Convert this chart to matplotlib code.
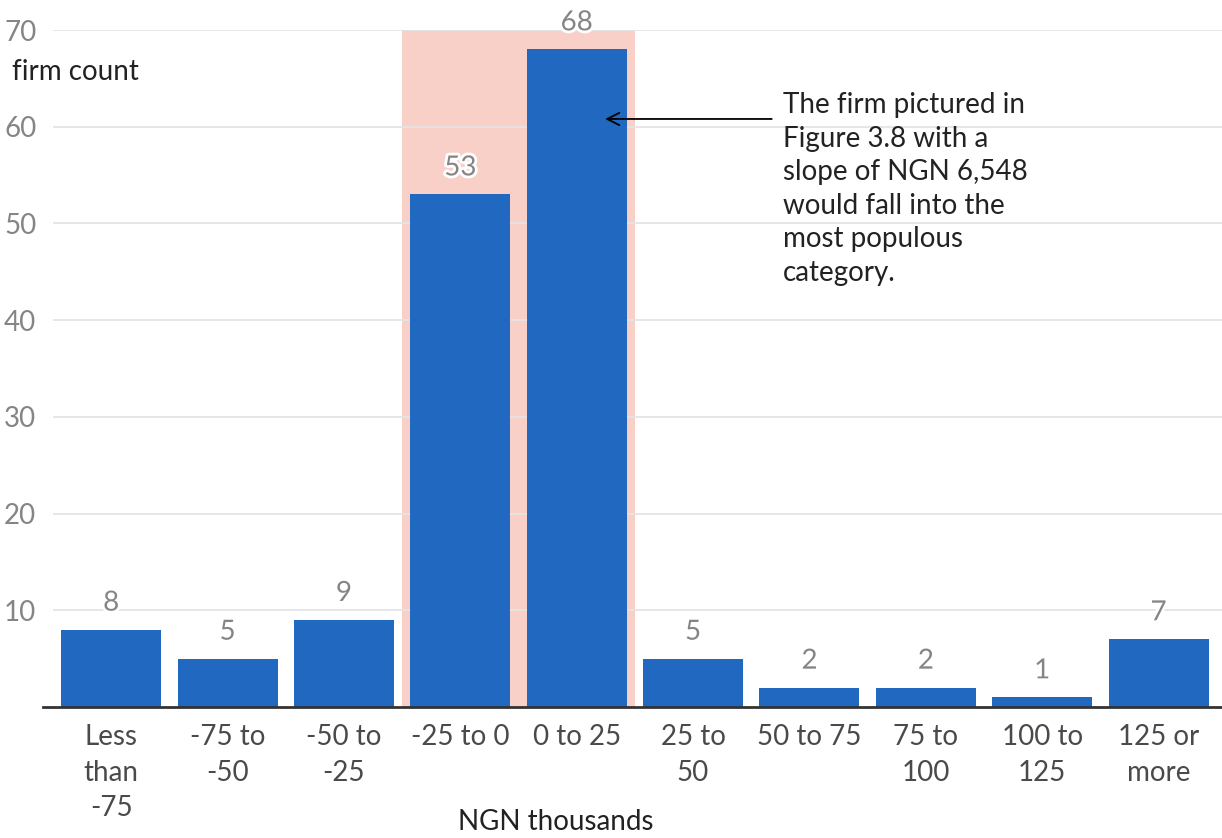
import matplotlib
matplotlib.use("Agg")
import matplotlib.pyplot as plt
import matplotlib.patheffects as pe

plt.rcParams['font.family'] = ['Lato', 'DejaVu Sans']

categories = ["Less\nthan\n-75", "-75 to\n-50", "-50 to\n-25", "-25 to 0", "0 to 25",
              "25 to\n50", "50 to 75", "75 to\n100", "100 to\n125", "125 or\nmore"]
firm_counts = [8, 5, 9, 53, 68, 5, 2, 2, 1, 7]
y_ticks = [10, 20, 30, 40, 50, 60, 70]
highlight = (2.5, 4.5)

W, H = 1222, 838
fig = plt.figure(figsize=(W / 100, H / 100), dpi=100)
ax = fig.add_axes([53 / W, 131 / H, (W - 53) / W, 677 / H])

bar_color = "#2068c0"
gray = "#858585"
fs = 20

ax.axvspan(highlight[0], highlight[1], ymin=0, ymax=1, color="#f9d0c8", zorder=0, lw=0)
x = list(range(len(categories)))
ax.bar(x, firm_counts, width=0.86, color=bar_color, zorder=2)

for xi, v in zip(x, firm_counts):
    ax.annotate(str(v), (xi, v), xytext=(0, 27), textcoords="offset pixels",
                ha="center", va="center", color=gray, fontsize=fs, zorder=4,
                path_effects=[pe.withStroke(linewidth=4, foreground="white")])

ax.set_xlim(-0.5, 9.545)
ax.set_ylim(0, 70)
ax.set_yticks(y_ticks)
ax.set_yticklabels([str(t) for t in y_ticks], color=gray, fontsize=fs)
ax.yaxis.grid(True, color="#e4e4e4", lw=1.3, zorder=1)
ax.set_axisbelow(True)
ax.tick_params(axis="y", length=0, pad=12)
ax.set_xticks(x)
ax.set_xticklabels(categories, color="#4a4a4a", fontsize=fs, linespacing=1.47, va="top")
ax.tick_params(axis="x", length=0, pad=12)
for s in ax.spines.values():
    s.set_visible(False)
ax.plot([-0.585, 9.545], [0, 0], color="#333333", lw=2, clip_on=False, zorder=3)

ax.annotate("", xy=(4.22, 60.8), xytext=(5.70, 60.8),
            arrowprops=dict(arrowstyle="->", color="black", lw=1.3,
                            mutation_scale=22), zorder=5)
fig.text(783 / W, 1 - 92 / H,
         "The firm pictured in\nFigure 3.8 with a\nslope of NGN 6,548\nwould fall into the\nmost populous\ncategory.",
         ha="left", va="top", fontsize=fs, color="#222222", linespacing=1.36)

fig.text(12 / W, 1 - 72 / H, "firm count", ha="left", va="center", fontsize=fs, color="#222222")
fig.text(556 / W, 16 / H, "NGN thousands", ha="center", va="center", fontsize=fs, color="#222222")

fig.savefig("out.png", dpi=100, facecolor="white")
